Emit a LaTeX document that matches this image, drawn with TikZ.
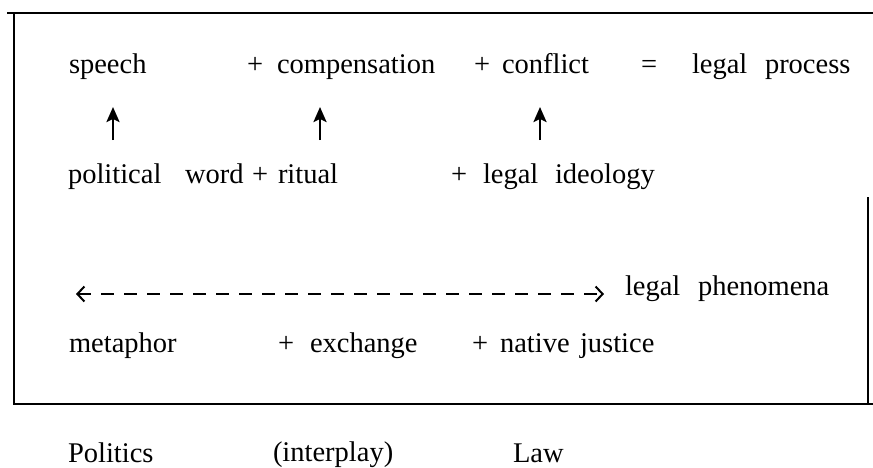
\documentclass[tikz,border=0pt]{standalone}
\usepackage{fontspec}
\setmainfont{Liberation Serif}
\usetikzlibrary{arrows.meta}
\newcommand{\wordfont}{\fontsize{28.5}{34}\selectfont}
\tikzset{
  txt/.style={anchor=base west, inner sep=0pt, outer sep=0pt, font=\wordfont},
  frameline/.style={line width=2pt, black},
  uparrow/.style={line width=2.4pt, -{Stealth[length=15pt,width=13pt,inset=3pt]}},
  dasharrow/.style={line width=1.6pt, dash pattern=on 13pt off 10pt,
    {Straight Barb[length=7pt,width=15pt,line width=2pt]}-{Straight Barb[length=7pt,width=15pt,line width=2pt]}}
}
\begin{document}
\begin{tikzpicture}[x=1pt,y=-1pt]
\useasboundingbox (0,0) rectangle (873,467);
% frame
\coordinate (tl0) at (7,13);
\coordinate (tr0) at (873,13);
\coordinate (ltop) at (14,12);
\coordinate (lbot) at (14,405);
\coordinate (bl0) at (13,404);
\coordinate (br0) at (873,404);
\coordinate (rtop) at (868,197);
\coordinate (rbot) at (868,405);
\draw[frameline] (tl0) -- (tr0);
\draw[frameline] (ltop) -- (lbot);
\draw[frameline] (bl0) -- (br0);
\draw[frameline] (rtop) -- (rbot);
% row 1
\node[txt] (speech) at (69,73) {speech};
\node[txt] (p1) at (247,73) {+};
\node[txt] (comp) at (277,73) {compensation};
\node[txt] (p2) at (474,73) {+};
\node[txt] (confl) at (502,73) {conflict};
\node[txt] (eq) at (641,73) {=};
\node[txt] (legal1) at (692,73) {legal};
\node[txt] (proc) at (765,73) {process};
% row 2
\node[txt] (polit) at (68,183) {political};
\node[txt] (word) at (185,183) {word};
\node[txt] (p3) at (252,183) {+};
\node[txt] (ritual) at (278,183) {ritual};
\node[txt] (p4) at (451,183) {+};
\node[txt] (legal2) at (483,183) {legal};
\node[txt] (ideol) at (555,183) {ideology};
% vertical arrows
\coordinate (a1s) at (113,140);
\coordinate (a1e) at (113,107);
\coordinate (a2s) at (320,140);
\coordinate (a2e) at (320,107);
\coordinate (a3s) at (540,140);
\coordinate (a3e) at (540,107);
\draw[uparrow] (a1s) -- (a1e);
\draw[uparrow] (a2s) -- (a2e);
\draw[uparrow] (a3s) -- (a3e);
% dashed arrow row
\coordinate (dl) at (76,294);
\coordinate (dr) at (604,294);
\draw[dasharrow] (dl) -- (dr);
\node[txt] (legal3) at (625,295) {legal};
\node[txt] (phen) at (698,295) {phenomena};
% row 3
\node[txt] (metaph) at (69,352) {metaphor};
\node[txt] (p5) at (278,352) {+};
\node[txt] (exch) at (310,352) {exchange};
\node[txt] (p6) at (472,352) {+};
\node[txt] (native) at (500,352) {native};
\node[txt] (just) at (580,352) {justice};
% bottom labels
\node[txt] (politics) at (68,462) {Politics};
\node[txt] (interplay) at (273,461) {(interplay)};
\node[txt] (law) at (513,462) {Law};
\end{tikzpicture}
\end{document}
